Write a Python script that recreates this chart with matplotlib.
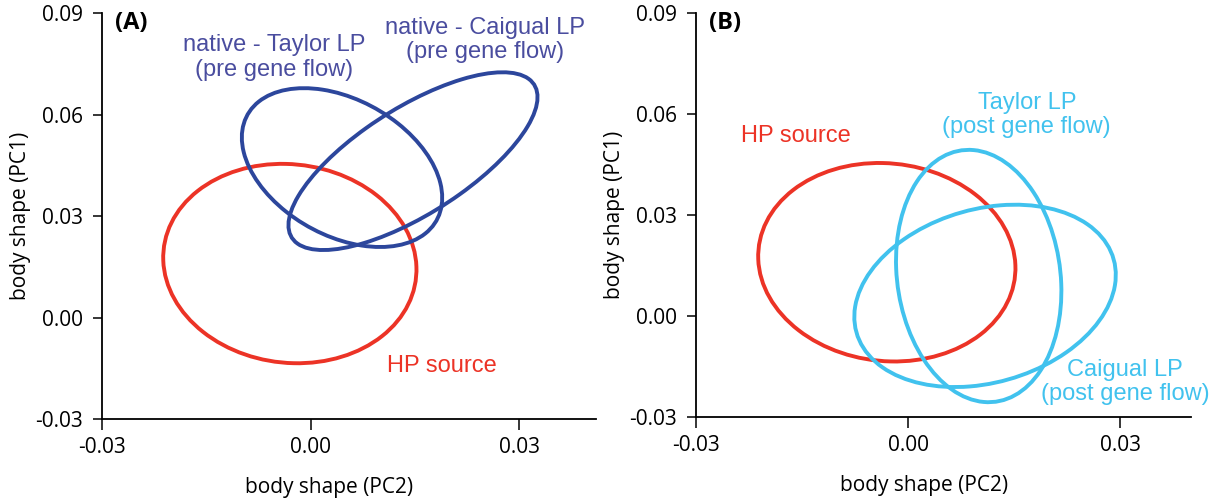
import numpy as np
import matplotlib.pyplot as plt
import matplotlib.transforms as transforms
from matplotlib.patches import Ellipse

plt.rcParams["font.family"] = ["Open Sans", "DejaVu Sans"]

# ellipse summaries per group: centre, half-extent on PC2 / PC1, correlation
a_labels = ["HP source", "native - Taylor LP\n(pre gene flow)", "native - Caigual LP\n(pre gene flow)"]
a_cx = [-0.0030, 0.0045, 0.0147]
a_cy = [0.0160, 0.0444, 0.0463]
a_sx = [0.0182, 0.0144, 0.0179]
a_sy = [0.0295, 0.0235, 0.0263]
a_r = [-0.06, -0.38, 0.72]

b_labels = ["HP source", "Taylor LP\n(post gene flow)", "Caigual LP\n(post gene flow)"]
b_cx = [-0.0030, 0.0100, 0.0109]
b_cy = [0.0160, 0.0119, 0.0060]
b_sx = [0.0182, 0.0117, 0.0185]
b_sy = [0.0295, 0.0375, 0.0271]
b_r = [-0.06, -0.12, 0.23]

ticks = [-0.03, 0.00, 0.03]
yticks = [-0.03, 0.00, 0.03, 0.06, 0.09]

RED = "#ec3326"
NAVY = "#2c469c"
NAVY_TXT = "#4a4d9f"
SKY = "#41c2ee"


def draw_ellipse(ax, cx, cy, sx, sy, r, color):
    ell = Ellipse((0, 0), width=2 * np.sqrt(1 + r), height=2 * np.sqrt(1 - r),
                  facecolor="none", edgecolor=color, lw=2.8)
    tr = transforms.Affine2D().rotate_deg(45).scale(sx, sy).translate(cx, cy)
    ell.set_transform(tr + ax.transData)
    ax.add_patch(ell)


def style_axes(ax, xmax, tag):
    ax.set_xlim(-0.03, xmax)
    ax.set_ylim(-0.03, 0.09)
    ax.set_xticks(ticks)
    ax.set_xticklabels([f"{t:.2f}" for t in ticks])
    ax.set_yticks(yticks)
    ax.set_yticklabels([f"{t:.2f}" for t in yticks])
    for s in ["top", "right"]:
        ax.spines[s].set_visible(False)
    for s in ["left", "bottom"]:
        ax.spines[s].set_linewidth(1.3)
    ax.tick_params(axis="x", direction="out", length=8, width=1.1, pad=5, labelsize=15)
    ax.tick_params(axis="y", direction="out", length=6.5, width=1.1, pad=7, labelsize=15)
    ax.set_xlabel("body shape (PC2)", fontsize=15)
    ax.xaxis.set_label_coords(0.46, -0.17)
    ax.xaxis.label.set_va("center")
    ax.set_ylabel("body shape (PC1)", fontsize=15)
    ax.yaxis.set_label_coords(-0.165, 0.5)
    ax.yaxis.label.set_va("center")
    ax.text(0.026, 0.977, tag, transform=ax.transAxes, fontsize=17,
            fontweight="bold", ha="left", va="center")


fig = plt.figure(figsize=(12.17, 5.03), dpi=100)
ax1 = fig.add_axes([0.0838, 0.1670, 0.4059, 0.8062])
ax2 = fig.add_axes([0.5719, 0.1710, 0.4065, 0.8026])

# (A) native populations before gene flow
a_colors = [RED, NAVY, NAVY]
for i in range(3):
    draw_ellipse(ax1, a_cx[i], a_cy[i], a_sx[i], a_sy[i], a_r[i], a_colors[i])
style_axes(ax1, 0.041, "(A)")
txt = dict(family=["Liberation Sans", "DejaVu Sans"], fontsize=17, ha="center", va="center")
ax1.text(0.0189, -0.0143, a_labels[0], color=RED, **txt)
ax1.text(-0.0053, 0.0770, a_labels[1], color=NAVY_TXT, linespacing=1.15, **txt)
ax1.text(0.0251, 0.0822, a_labels[2], color=NAVY_TXT, linespacing=1.15, **txt)

# (B) after gene flow
b_colors = [RED, SKY, SKY]
for i in range(3):
    draw_ellipse(ax2, b_cx[i], b_cy[i], b_sx[i], b_sy[i], b_r[i], b_colors[i])
style_axes(ax2, 0.04, "(B)")
ax2.text(-0.0159, 0.0535, b_labels[0], color=RED, **txt)
ax2.text(0.0168, 0.0598, b_labels[1], color=SKY, linespacing=1.15, **txt)
ax2.text(0.0307, -0.0196, b_labels[2], color=SKY, linespacing=1.15, **txt)

fig.savefig("out.png", dpi=100)
